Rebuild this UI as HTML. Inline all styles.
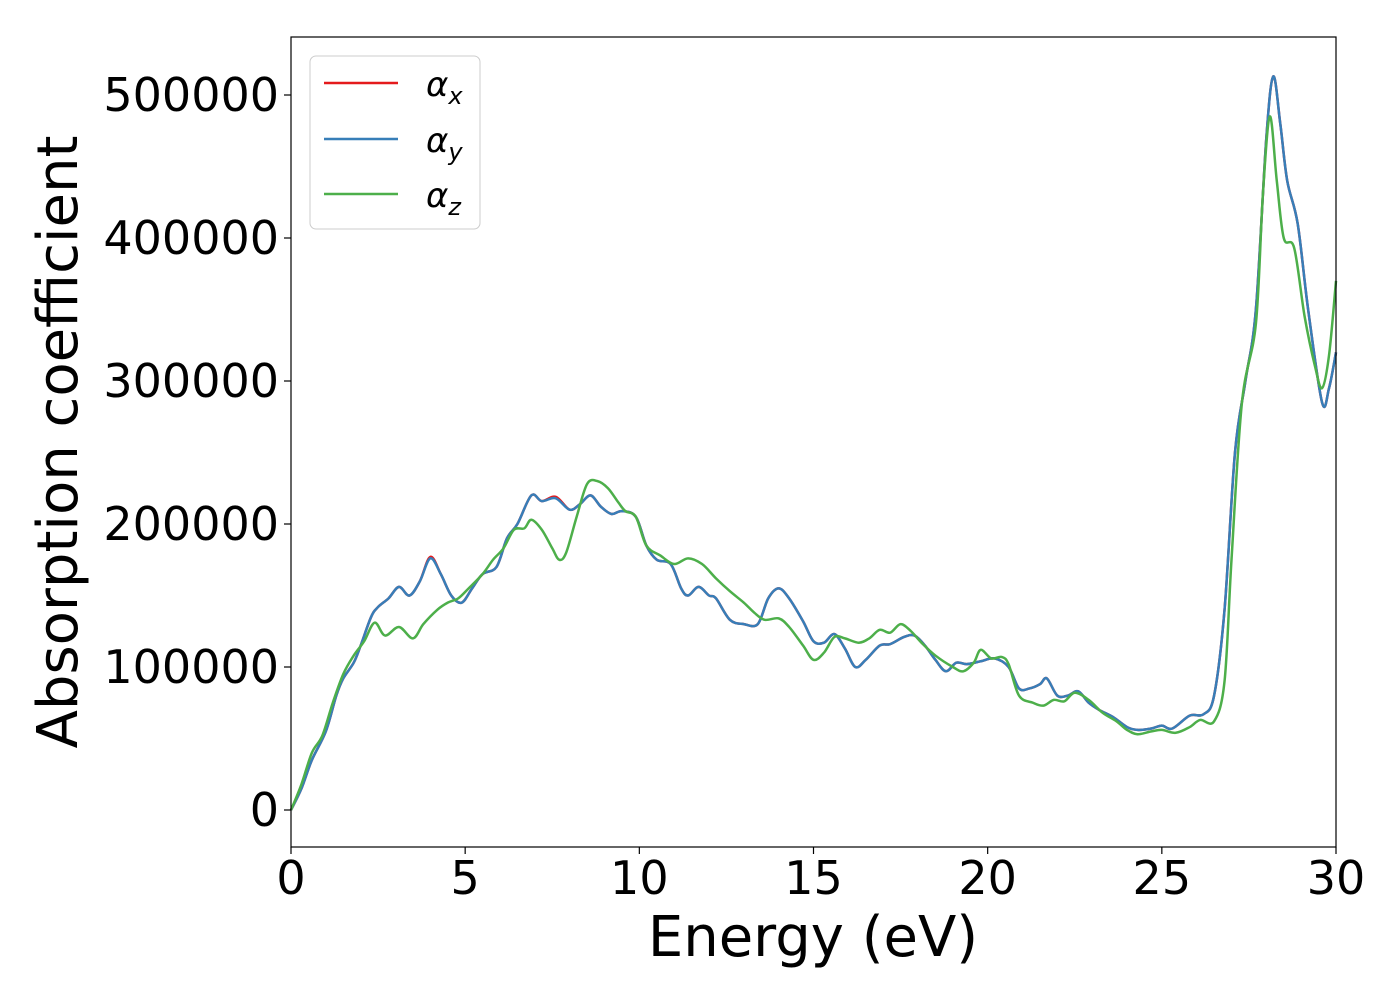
<!DOCTYPE html>
<html><head><meta charset="utf-8"><style>
html,body{margin:0;padding:0;background:#fff}
svg{display:block;font-family:"DejaVu Sans","Liberation Sans",sans-serif}
</style></head><body>
<svg id="chart" width="1400" height="1000">
<rect x="291" y="37" width="1045" height="810" fill="#fff"/>
<g id="series"></g>
<rect x="291" y="37" width="1045" height="810" fill="none" stroke="#000" stroke-width="1.2"/>
<g id="xticks"></g>
<g id="yticks"></g>
<text x="813" y="956" font-size="56" text-anchor="middle">Energy (eV)</text>
<text transform="translate(77,442) rotate(-90)" font-size="56" text-anchor="middle">Absorption coefficient</text>
<g>
<rect x="310" y="56" width="170" height="173" rx="6" fill="#fff" fill-opacity="0.8" stroke="#ccc"/>
<g><line x1="324" y1="83" x2="398" y2="83" stroke="#e41a1c" stroke-width="2.5"/><text x="426" y="96" font-size="34" font-style="italic">α<tspan font-size="24" dy="8">x</tspan></text></g>
<g><line x1="324" y1="139" x2="398" y2="139" stroke="#377eb8" stroke-width="2.5"/><text x="426" y="152" font-size="34" font-style="italic">α<tspan font-size="24" dy="8">y</tspan></text></g>
<g><line x1="324" y1="194" x2="398" y2="194" stroke="#4daf4a" stroke-width="2.5"/><text x="426" y="207" font-size="34" font-style="italic">α<tspan font-size="24" dy="8">z</tspan></text></g>
</g>
</svg>
<script>
const xTicks=[0,5,10,15,20,25,30];
const yTicks=[0,100000,200000,300000,400000,500000];
const eY=[0,0.3,0.6,1.0,1.3,1.5,1.8,2.0,2.3,2.5,2.8,3.1,3.4,3.7,4.0,4.3,4.6,4.9,5.2,5.5,5.9,6.2,6.5,6.9,7.2,7.6,8.0,8.3,8.6,8.9,9.2,9.5,9.9,10.2,10.5,10.9,11.2,11.4,11.7,12.0,12.2,12.6,13.0,13.4,13.7,14.0,14.3,14.7,15.0,15.3,15.6,15.9,16.2,16.5,16.9,17.2,17.6,17.9,18.2,18.5,18.8,19.1,19.4,19.8,20.2,20.6,20.9,21.2,21.5,21.7,22.0,22.3,22.6,22.9,23.2,23.6,24.0,24.3,24.7,25.0,25.3,25.8,26.2,26.5,26.8,27.1,27.4,27.7,28.0,28.2,28.4,28.6,28.9,29.2,29.6,29.8,30.0];
const alphaY=[0,15000,35000,55000,80000,92000,103000,115000,135000,142000,148000,156000,150000,160000,176000,165000,150000,145000,155000,165000,170000,190000,200000,220000,216000,218000,210000,214000,220000,212000,207000,209000,205000,185000,175000,172000,155000,150000,156000,150000,148000,133000,130000,130000,148000,155000,148000,132000,118000,117000,123000,113000,100000,105000,115000,116000,121000,122000,115000,105000,97000,103000,102000,104000,106000,100000,85000,85000,88000,92000,80000,80000,83000,75000,70000,65000,58000,56000,57000,59000,57000,66000,67000,80000,140000,250000,300000,350000,470000,513000,480000,440000,410000,350000,285000,295000,320000];
const alphaX=[0,15000,35000,55000,80000,92000,103000,115000,135000,142000,148000,156000,150000,160000,177000,165000,150000,145000,155000,165000,170000,190000,200000,220000,216000,219000,210000,214000,220000,212000,207000,209000,205000,185000,175000,172000,155000,150000,156000,150000,148000,133000,130000,130000,148000,155000,148000,132000,118000,117000,123000,113000,100000,105000,115000,116000,121000,122000,115000,105000,97000,103000,102000,104000,106000,100000,85000,85000,88000,92000,80000,80000,83000,75000,70000,65000,58000,56000,57000,59000,57000,66000,67000,80000,140000,250000,300000,350000,470000,513000,480000,440000,410000,350000,285000,295000,320000];
const eZ=[0,0.3,0.6,0.9,1.2,1.5,1.8,2.1,2.4,2.7,3.1,3.5,3.8,4.2,4.5,4.8,5.1,5.5,5.8,6.1,6.4,6.7,6.9,7.2,7.5,7.7,7.9,8.2,8.5,8.8,9.1,9.4,9.6,9.9,10.2,10.6,11.0,11.4,11.8,12.2,12.6,13.0,13.3,13.6,14.0,14.3,14.7,15.0,15.3,15.6,15.9,16.3,16.6,16.9,17.2,17.5,17.8,18.1,18.5,19.0,19.3,19.6,19.8,20.1,20.4,20.6,20.9,21.3,21.6,21.9,22.2,22.5,22.9,23.3,23.7,24.0,24.3,24.7,25.0,25.4,25.8,26.1,26.5,26.8,27.0,27.3,27.7,27.9,28.1,28.3,28.5,28.8,29.1,29.4,29.6,29.8,30.0];
const alphaZ=[0,18000,40000,52000,75000,95000,108000,118000,131000,122000,128000,120000,130000,140000,145000,148000,155000,165000,175000,183000,196000,197000,203000,196000,183000,175000,180000,205000,228000,230000,225000,215000,209000,205000,185000,178000,172000,176000,172000,162000,153000,145000,138000,133000,134000,128000,115000,105000,110000,121000,120000,117000,120000,126000,124000,130000,125000,117000,108000,100000,97000,103000,112000,106000,107000,102000,80000,75000,73000,77000,76000,82000,77000,68000,62000,56000,53000,55000,56000,54000,58000,63000,62000,90000,175000,285000,340000,430000,485000,440000,400000,393000,345000,310000,295000,318000,370000];
const X0=291,X1=1336,Y0=810,Ypx=715/500000;
const xs=v=>X0+(v-0)*(X1-X0)/30;
const ys=v=>Y0-v*Ypx;
const NS="http://www.w3.org/2000/svg";
function mk(t,a,p){const e=document.createElementNS(NS,t);for(const k in a)e.setAttribute(k,a[k]);p.appendChild(e);return e;}
function pathFor(E,V){const P=E.map((e,i)=>[xs(e),ys(V[i])]);let d="M"+P[0][0]+","+P[0][1];
for(let i=0;i<P.length-1;i++){const p0=P[Math.max(0,i-1)],p1=P[i],p2=P[i+1],p3=P[Math.min(P.length-1,i+2)];
const c1=[p1[0]+(p2[0]-p0[0])/6,p1[1]+(p2[1]-p0[1])/6],c2=[p2[0]-(p3[0]-p1[0])/6,p2[1]-(p3[1]-p1[1])/6];
d+=" C"+c1[0]+","+c1[1]+" "+c2[0]+","+c2[1]+" "+p2[0]+","+p2[1];}return d;}
const sg=document.getElementById('series');
const lx=mk('path',{d:pathFor(eY,alphaX),fill:'none',stroke:'#e41a1c','stroke-width':2.5},sg);


const ly=mk('path',{d:pathFor(eY,alphaY),fill:'none',stroke:'#377eb8','stroke-width':2.5},sg);


const lz=mk('path',{d:pathFor(eZ,alphaZ),fill:'none',stroke:'#4daf4a','stroke-width':2.5},sg);


const xg=document.getElementById('xticks');
xTicks.forEach(t=>{const x=xs(t);
const l=mk('line',{x1:x,y1:847,x2:x,y2:854,stroke:'#000','stroke-width':1.2},xg);


const tx=mk('text',{x:x,y:894,'font-size':46,'text-anchor':'middle'},xg);tx.textContent=t;

});
const yg=document.getElementById('yticks');
yTicks.forEach(t=>{const y=ys(t);
const l=mk('line',{x1:284,y1:y,x2:291,y2:y,stroke:'#000','stroke-width':1.2},yg);


const tx=mk('text',{x:279,y:y+16,'font-size':46,'text-anchor':'end'},yg);tx.textContent=t;

});
</script>
</body></html>
